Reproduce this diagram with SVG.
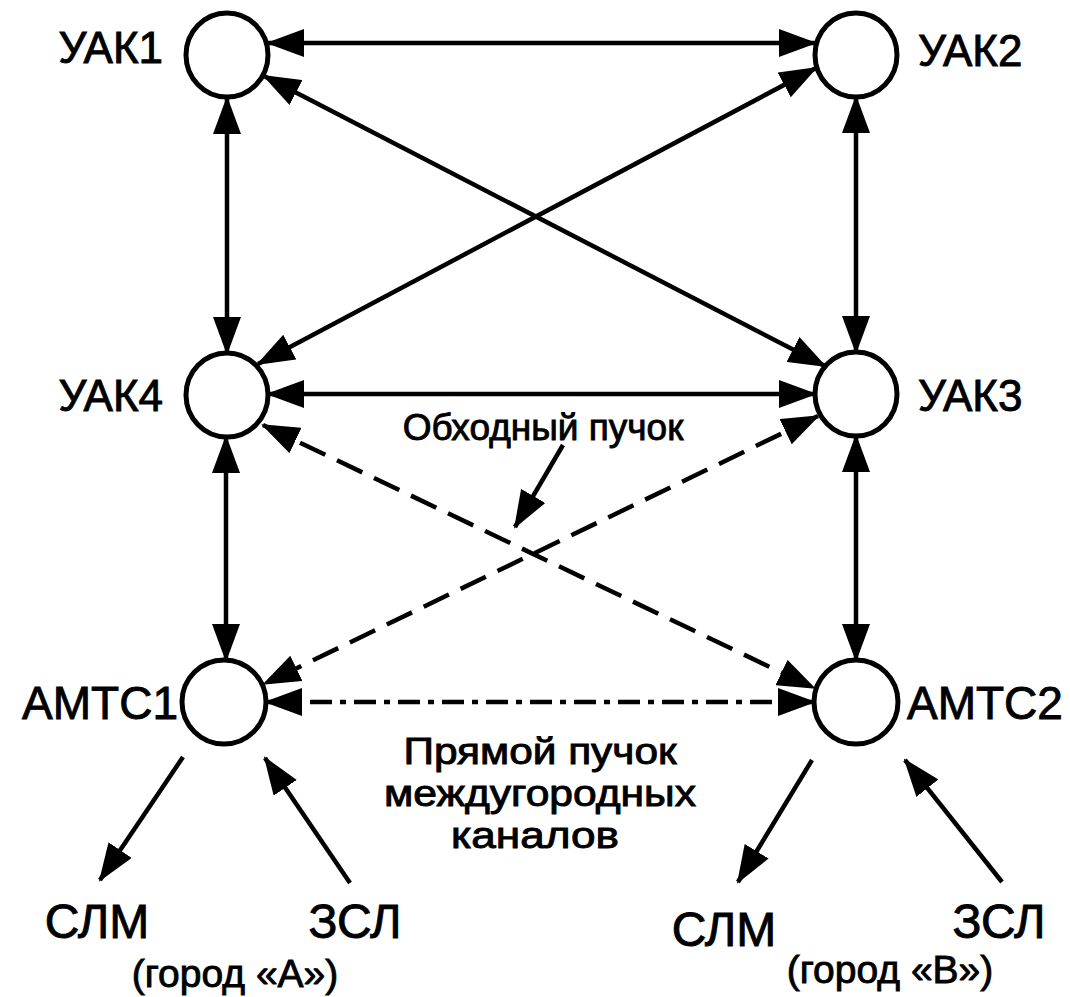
<svg xmlns="http://www.w3.org/2000/svg" width="1070" height="997" viewBox="0 0 1070 997">
<defs>
<marker id="ah" viewBox="0 0 38 28" refX="36" refY="14" markerWidth="38" markerHeight="28" markerUnits="userSpaceOnUse" orient="auto-start-reverse">
<path d="M0,0 L38,14 L0,28 z" fill="#000"/>
</marker>
<style>
.n{fill:#fff;stroke:#000;stroke-width:5}
.t{font-family:"Liberation Sans",Arial,sans-serif;fill:#000;stroke:#000;stroke-width:0.9}
.lbl{font-size:44px}
.c{fill:none;stroke:#000;stroke-width:4.5}
.d{stroke-dasharray:28 13}
.dd{stroke-dasharray:22 8 6 8}
.one{marker-end:url(#ah)}
.two{marker-start:url(#ah);marker-end:url(#ah)}
</style>
</defs>
<rect width="1070" height="997" fill="#fff"/>
<g id="connectors">
<line class="c two" x1="268" y1="43" x2="815" y2="43"/>
<line class="c two" x1="227" y1="98" x2="227" y2="353"/>
<line class="c two" x1="856" y1="97" x2="856" y2="352"/>
<line class="c two" x1="264" y1="76" x2="825" y2="366"/>
<line class="c two" x1="816" y1="68" x2="258" y2="364"/>
<line class="c two" x1="268" y1="394" x2="815" y2="394"/>
<line class="c two" x1="226" y1="437" x2="226" y2="660"/>
<line class="c two" x1="856" y1="436" x2="856" y2="660"/>
<line class="c two d" x1="263" y1="425" x2="814" y2="688"/>
<line class="c two d" x1="818" y1="416" x2="264" y2="684"/>
<line class="c two dd" x1="266" y1="702" x2="814" y2="702"/>
<line class="c one" x1="563" y1="445" x2="515" y2="527"/>
<line class="c one" x1="183" y1="757" x2="100" y2="880"/>
<line class="c one" x1="350" y1="883" x2="265" y2="758"/>
<line class="c one" x1="812" y1="760" x2="738" y2="882"/>
<line class="c one" x1="1002" y1="882" x2="905" y2="760"/>
</g>
<g id="UAK1"><ellipse class="n" cx="227" cy="55" rx="41" ry="42"/><text class="t lbl" x="163" y="63" text-anchor="end">УАК1</text></g>
<g id="UAK2"><ellipse class="n" cx="856" cy="55" rx="41" ry="42"/><text class="t lbl" x="918" y="66">УАК2</text></g>
<g id="UAK4"><ellipse class="n" cx="227" cy="395" rx="41" ry="42"/><text class="t lbl" x="163" y="411" text-anchor="end">УАК4</text></g>
<g id="UAK3"><ellipse class="n" cx="856" cy="394" rx="41" ry="42"/><text class="t lbl" x="918" y="411">УАК3</text></g>
<g id="AMTC1"><ellipse class="n" cx="224" cy="702" rx="42" ry="42"/><text class="t" font-size="46" x="178" y="719" text-anchor="end">АМТС1</text></g>
<g id="AMTC2"><ellipse class="n" cx="856" cy="702" rx="42" ry="42"/><text class="t" font-size="46" x="907" y="719">АМТС2</text></g>
<g id="labels">
<text class="t" x="543" y="440" font-size="37" text-anchor="middle">Обходный пучок</text>
<text class="t" x="540" y="764" font-size="36" text-anchor="middle" textLength="273" lengthAdjust="spacingAndGlyphs">Прямой пучок</text>
<text class="t" x="540" y="806" font-size="36" text-anchor="middle" textLength="312" lengthAdjust="spacingAndGlyphs">междугородных</text>
<text class="t" x="535" y="848" font-size="36" text-anchor="middle" textLength="168" lengthAdjust="spacingAndGlyphs">каналов</text>
<text class="t" x="97" y="938" font-size="48" text-anchor="middle">СЛМ</text>
<text class="t" x="355" y="938" font-size="48" text-anchor="middle">ЗСЛ</text>
<text class="t" x="724" y="946" font-size="48" text-anchor="middle">СЛМ</text>
<text class="t" x="999" y="938" font-size="48" text-anchor="middle">ЗСЛ</text>
<text class="t" x="235" y="987" font-size="39" text-anchor="middle">(город «А»)</text>
<text class="t" x="890" y="983" font-size="39" text-anchor="middle">(город «В»)</text>
</g>
</svg>
